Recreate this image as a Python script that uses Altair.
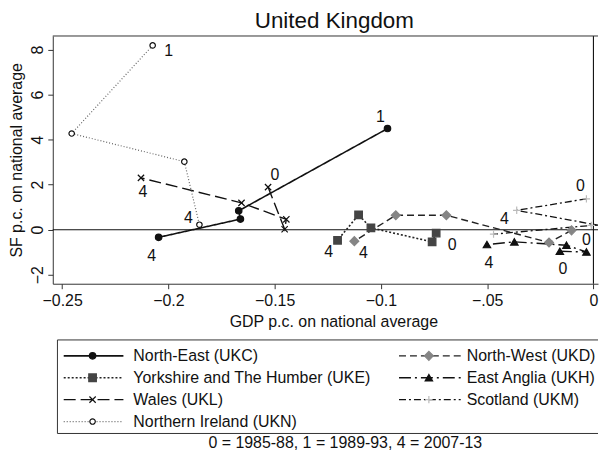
import altair as alt
import pandas as pd

# ---------------- data ----------------
series_names = [
    "North-East (UKC)",
    "North-West (UKD)",
    "Yorkshire and The Humber (UKE)",
    "East Anglia (UKH)",
    "Wales (UKL)",
    "Scotland (UKM)",
    "Northern Ireland (UKN)",
]
codes = ["UKC", "UKD", "UKE", "UKH", "UKL", "UKM", "UKN"]

ukc_period = [1, 2, 3, 4]
ukc_gdp = [-0.0969, -0.1669, -0.1661, -0.2046]
ukc_sf = [4.49, 0.84, 0.47, -0.34]

ukd_period = [0, 1, 2, 3, 4]
ukd_gdp = [-0.0103, -0.0209, -0.0692, -0.0930, -0.1125]
ukd_sf = [-0.03, -0.57, 0.64, 0.64, -0.51]

uke_period = [0, 1, 2, 3, 4]
uke_gdp = [-0.0740, -0.0759, -0.1047, -0.1105, -0.1204]
uke_sf = [-0.15, -0.54, 0.08, 0.66, -0.47]

ukh_period = [0, 1, 2, 3, 4]
ukh_gdp = [-0.0158, -0.0033, -0.0127, -0.0372, -0.0501]
ukh_sf = [-0.96, -0.99, -0.69, -0.54, -0.66]

ukl_period = [0, 1, 2, 3, 4]
ukl_gdp = [-0.1531, -0.1453, -0.1445, -0.1656, -0.2129]
ukl_sf = [1.89, 0.02, 0.46, 1.19, 2.30]

ukm_period = [0, 1, 2, 3, 4]
ukm_gdp = [-0.0033, -0.0361, 0.0095, -0.0010, -0.0470]
ukm_sf = [1.37, 0.86, 0.20, 0.19, -0.20]

ukn_period = [1, 2, 3, 4]
ukn_gdp = [-0.2074, -0.2455, -0.1925, -0.1854]
ukn_sf = [8.18, 4.27, 3.02, 0.22]

x_ticks = [-0.25, -0.2, -0.15, -0.1, -0.05, 0]
x_tick_labels = ["\u22120.25", "\u22120.2", "\u22120.15", "\u22120.1", "\u2212.05", "0"]
y_ticks = [-2, 0, 2, 4, 6, 8]

title_text = "United Kingdom"
x_title = "GDP p.c. on national average"
y_title = "SF p.c. on national average"
note_text = "0 = 1985-88, 1 = 1989-93, 4 = 2007-13"

# ---------------- table built from the arrays ----------------
raw = {
    "UKC": (ukc_period, ukc_gdp, ukc_sf),
    "UKD": (ukd_period, ukd_gdp, ukd_sf),
    "UKE": (uke_period, uke_gdp, uke_sf),
    "UKH": (ukh_period, ukh_gdp, ukh_sf),
    "UKL": (ukl_period, ukl_gdp, ukl_sf),
    "UKM": (ukm_period, ukm_gdp, ukm_sf),
    "UKN": (ukn_period, ukn_gdp, ukn_sf),
}
rows = []
for code, (per, gdp, sf) in raw.items():
    for i, (p, g, s) in enumerate(zip(per, gdp, sf)):
        end = "first" if i == 0 else ("last" if i == len(per) - 1 else "mid")
        rows.append({"code": code, "period": p, "gdp": g, "sf": s,
                     "lab": str(p), "end": end})
df = pd.DataFrame(rows)

# ---------------- styles ----------------
XPATH = "M-1,-1L1,1M-1,1L1,-1"
PLUSPATH = "M-1,0L1,0M0,-1L0,1"
style = {
    "UKC": dict(dash=[1, 0], color="#111111", width=1.6, shape="circle", fill="#111111", stroke="#111111", size=42),
    "UKD": dict(dash=[7, 4], color="#222222", width=1.4, shape="diamond", fill="#858585", stroke="#858585", size=80),
    "UKE": dict(dash=[2, 2], color="#222222", width=1.6, shape="square", fill="#444444", stroke="#444444", size=58),
    "UKH": dict(dash=[12, 4, 2, 4], color="#111111", width=1.4, shape="triangle-up", fill="#111111", stroke="#111111", size=55),
    "UKL": dict(dash=[12, 5], color="#111111", width=1.4, shape=XPATH, fill="#111111", stroke="#111111", size=40),
    "UKM": dict(dash=[7, 3, 2, 3], color="#111111", width=1.3, shape=PLUSPATH, fill="#bbbbbb", stroke="#bbbbbb", size=55),
    "UKN": dict(dash=[1, 2], color="#666666", width=1.2, shape="circle", fill="#ffffff", stroke="#111111", size=30),
}

def sc(key, ordinal=False):
    if ordinal:
        return alt.Scale(type="ordinal", domain=codes, range=[style[c][key] for c in codes])
    return alt.Scale(domain=codes, range=[style[c][key] for c in codes])

# label offsets (dx, dy) from the point, in pixels
label_off = {
    ("UKN", "first"): (16, 6), ("UKN", "last"): (-11, -7),
    ("UKC", "first"): (-7, -12), ("UKC", "last"): (-7, 19),
    ("UKL", "first"): (7, -12), ("UKL", "last"): (2, 14),
    ("UKE", "first"): (16, 12), ("UKE", "last"): (-9, 12),
    ("UKD", "first"): (15, 10), ("UKD", "last"): (9, 12),
    ("UKH", "first"): (3, 18), ("UKH", "last"): (2, 19),
    ("UKM", "first"): (-6, -13), ("UKM", "last"): (11, -15),
}

FONT = "Liberation Sans"
PW, PH = 548, 249
PX_PER_UNIT = 2136.0
X_MIN = -0.2544
X_DOM = [X_MIN, X_MIN + PW / PX_PER_UNIT]
Y_DOM = [-2.4, 8.6]

# clamp keeps the off-panel Scotland point at the panel edge (the line is
# cut there as in the cropped original) so it cannot widen the page
xs = alt.Scale(domain=X_DOM, nice=False, zero=False, clamp=True)
ys = alt.Scale(domain=Y_DOM, nice=False, zero=False)

step = x_ticks[1] - x_ticks[0]
label_arr = "[" + ",".join("'" + t + "'" for t in x_tick_labels) + "]"
x_label_expr = f"{label_arr}[round((datum.value - ({x_ticks[0]})) / {step})]"

base = alt.Chart(df)

lines = base.mark_line(clip=True).encode(
    x=alt.X("gdp:Q", scale=xs, axis=alt.Axis(
        values=x_ticks, labelExpr=x_label_expr, title=x_title, grid=False,
        tickSize=5, labelPadding=4, titlePadding=5, titleX=282,
        labelFontSize=16, titleFontSize=16, titleFontWeight="normal")),
    y=alt.Y("sf:Q", scale=ys, axis=alt.Axis(
        values=y_ticks, title=y_title, grid=False, labelAngle=270,
        labelAlign="center", labelBaseline="bottom",
        tickSize=5, labelPadding=2, titlePadding=5,
        labelFontSize=16, titleFontSize=16, titleFontWeight="normal")),
    detail="code:N",
    order="period:Q",
    color=alt.Color("code:N", scale=sc("color"), legend=None),
    strokeDash=alt.StrokeDash("code:N", scale=sc("dash"), legend=None),
    strokeWidth=alt.StrokeWidth("code:N", scale=sc("width", True), legend=None),
)

points = base.transform_filter(alt.datum.gdp <= X_DOM[1]).mark_point(
    filled=True, opacity=1, strokeWidth=1.2, clip=True).encode(
    x="gdp:Q", y="sf:Q",
    shape=alt.Shape("code:N", scale=sc("shape"), legend=None),
    fill=alt.Fill("code:N", scale=sc("fill"), legend=None),
    stroke=alt.Stroke("code:N", scale=sc("stroke"), legend=None),
    size=alt.Size("code:N", scale=sc("size", True), legend=None),
)

one = pd.DataFrame({"k": [0]})
zero_h = alt.Chart(one).mark_rule(color="#111111", strokeWidth=1.1).encode(y=alt.datum(0))
zero_v = alt.Chart(one).mark_rule(color="#111111", strokeWidth=1.1).encode(x=alt.datum(0))
top_rule = alt.Chart(one).mark_rule(color="#333333", strokeWidth=1).encode(y=alt.datum(Y_DOM[1]))

label_layers = []
for (code, end), (dx, dy) in label_off.items():
    label_layers.append(
        base.transform_filter(
            (alt.datum.code == code) & (alt.datum.end == end)
        ).mark_text(dx=dx, dy=dy, fontSize=16, font=FONT, color="#111111",
                    align="center", baseline="middle").encode(
            x="gdp:Q", y="sf:Q", text="lab:N")
    )

main = alt.layer(zero_h, zero_v, top_rule, lines, points, *label_layers).properties(
    width=PW, height=PH,
    title=alt.TitleParams(title_text, anchor="middle", dx=9, fontSize=22.5,
                          fontWeight="normal", font=FONT, offset=2.5, color="#111111"),
)

# ---------------- custom legend panel ----------------
LW, LH = PW, 94
leg = pd.DataFrame({"code": codes, "name": series_names})
leg["row"] = [i // 2 for i in range(len(codes))]
leg["col"] = [i % 2 for i in range(len(codes))]
col_layout = {0: (11, 71, 40, 81), 1: (348, 410, 378, 416)}
leg["x0"] = [col_layout[c][0] for c in leg["col"]]
leg["x1"] = [col_layout[c][1] for c in leg["col"]]
leg["xm"] = [col_layout[c][2] for c in leg["col"]]
leg["xt"] = [col_layout[c][3] for c in leg["col"]]

row_gap = 22.0
first_row = 16
L_Y_DOM = [-first_row / row_gap, (LH - first_row) / row_gap]
lxs = alt.Scale(domain=[0, LW], nice=False, zero=False)
lys = alt.Scale(domain=L_Y_DOM, nice=False, zero=False, reverse=True)

lbase = alt.Chart(leg)
leg_lines = lbase.mark_rule().encode(
    x=alt.X("x0:Q", scale=lxs, axis=None), x2="x1:Q",
    y=alt.Y("row:Q", scale=lys, axis=None),
    color=alt.Color("code:N", scale=sc("color"), legend=None),
    strokeDash=alt.StrokeDash("code:N", scale=sc("dash"), legend=None),
    strokeWidth=alt.StrokeWidth("code:N", scale=sc("width", True), legend=None),
)
leg_pts = lbase.mark_point(filled=True, opacity=1, strokeWidth=1.2).encode(
    x="xm:Q", y="row:Q",
    shape=alt.Shape("code:N", scale=sc("shape"), legend=None),
    fill=alt.Fill("code:N", scale=sc("fill"), legend=None),
    stroke=alt.Stroke("code:N", scale=sc("stroke"), legend=None),
    size=alt.Size("code:N", scale=sc("size", True), legend=None),
)
leg_txt = lbase.mark_text(align="left", baseline="middle", fontSize=16, font=FONT,
                          color="#111111").encode(x="xt:Q", y="row:Q", text="name:N")

BOX_L = 4.7
fr_top = alt.Chart(one).mark_rule(color="#333333").encode(
    x=alt.datum(BOX_L), x2=alt.datum(LW), y=alt.datum(L_Y_DOM[0]))
fr_bot = alt.Chart(one).mark_rule(color="#333333").encode(
    x=alt.datum(BOX_L), x2=alt.datum(LW), y=alt.datum(L_Y_DOM[1]))
fr_left = alt.Chart(one).mark_rule(color="#333333").encode(
    x=alt.datum(BOX_L), y=alt.datum(L_Y_DOM[0]), y2=alt.datum(L_Y_DOM[1]))

legend_panel = alt.layer(leg_lines, leg_pts, leg_txt, fr_top, fr_bot, fr_left).properties(
    width=LW, height=LH,
    title=alt.TitleParams(note_text, orient="bottom", anchor="middle", dx=20,
                          fontSize=16, fontWeight="normal", font=FONT, offset=1.5,
                          color="#111111"),
)

chart = alt.vconcat(main, legend_panel, spacing=8.5).properties(padding=0).configure(
    font=FONT
).configure_view(stroke="transparent").configure_axis(
    domainColor="#333333", tickColor="#333333", labelColor="#111111",
    titleColor="#111111", labelFont=FONT, titleFont=FONT, domainWidth=1,
)

chart.save("out.html", embed_options={"renderer": "svg", "actions": False})
